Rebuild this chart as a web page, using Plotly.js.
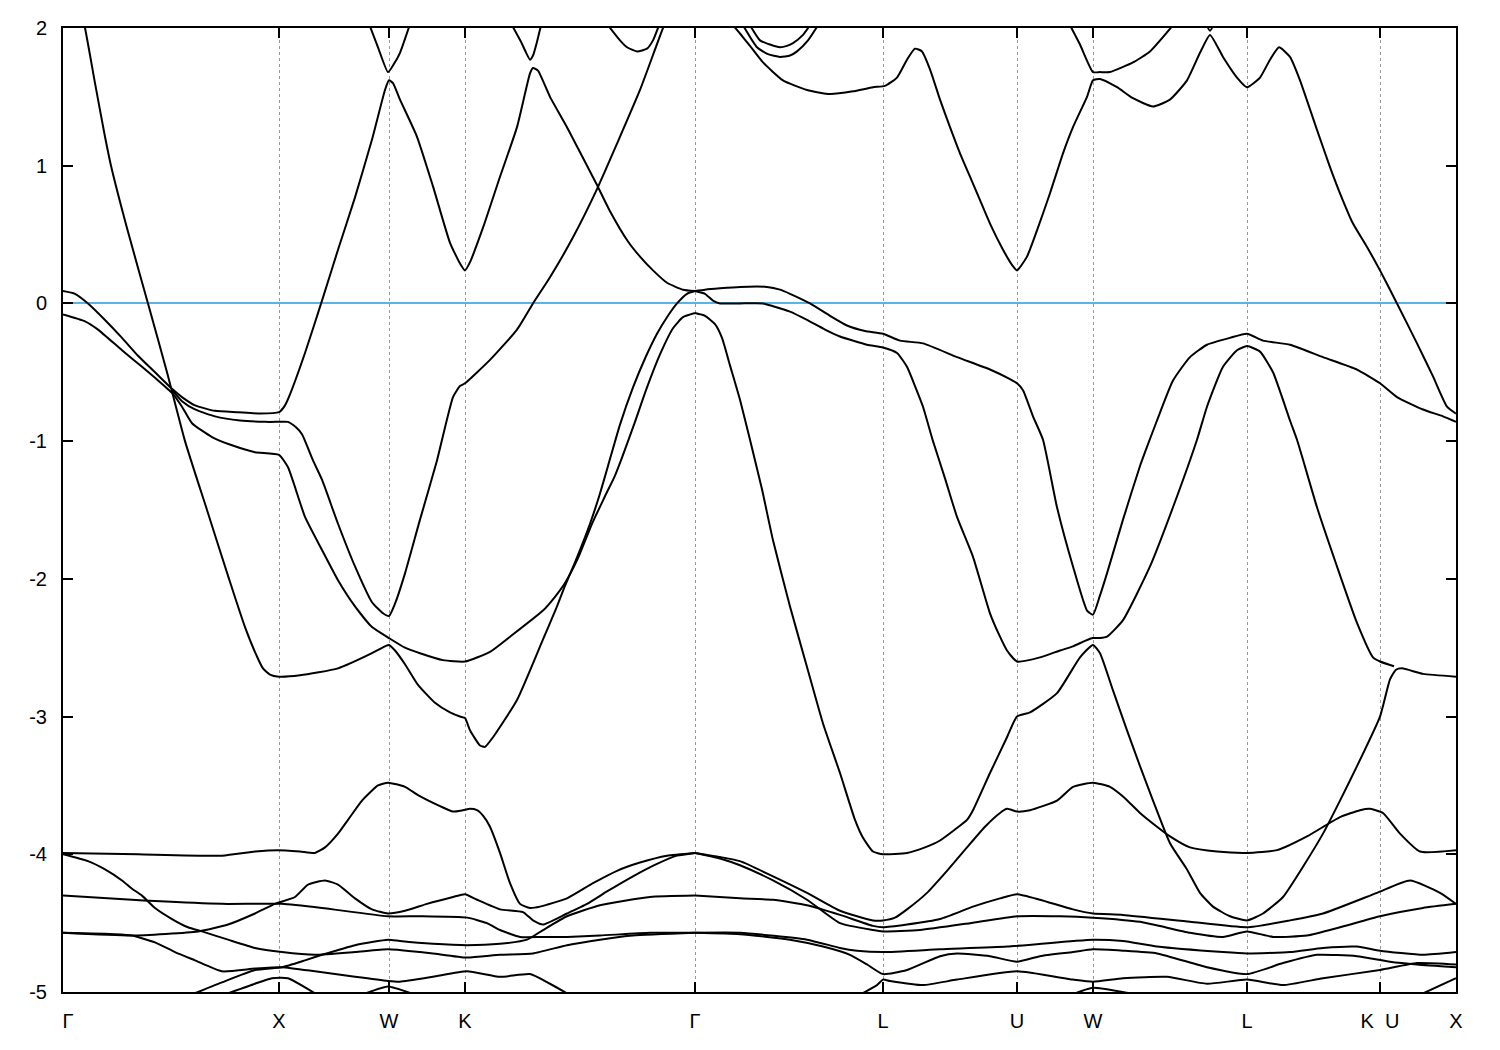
<!DOCTYPE html>
<html><head><meta charset="utf-8">
<script src="https://cdn.plot.ly/plotly-3.0.1.min.js"></script>
<style>body{margin:0;background:#fff}#plot{width:1500px;height:1050px}</style>
</head><body><div id="plot"></div>
<script>
// High-symmetry points along the path (path length units)
const kTicks  = [0, 2.16, 3.26, 4.02, 6.32, 8.20, 9.54, 10.30, 11.84, 13.17, 13.93];
const kLabels = ['\u2002Γ', 'X', 'W', 'K', 'Γ', 'L', 'U', 'W', 'L', 'K\u00a0\u00a0U', 'X'];
const eTicks  = [-5, -4, -3, -2, -1, 0, 1, 2];
const eLabels = ['-5', '-4', '-3', '-2', '-1', '0', '1', '2'];

// ---- bands (k, E in eV) ----
const c01_k = [0.15,0.22,0.32,0.42,0.48,0.65,0.85,1.04,1.22,1.44,1.66,1.82,1.95,2.00,2.07,2.16,2.37,2.75,3.09,3.22,3.26,3.32,3.42,3.55,3.72,3.87,3.97,4.02,4.07,4.17,4.22,4.30,4.54,4.80,4.94,5.02,5.12,5.27,5.37,5.45,5.57,5.70,5.82,5.94,6.04,6.14,6.24,6.32];
const c01_e = [2.2,2.0,1.6,1.21,1.0,0.52,0.0,-0.5,-1.0,-1.5,-2.0,-2.35,-2.58,-2.65,-2.695,-2.71,-2.70,-2.65,-2.54,-2.49,-2.48,-2.52,-2.62,-2.77,-2.9,-2.97,-3.0,-3.01,-3.1,-3.21,-3.22,-3.15,-2.88,-2.44,-2.2,-2.05,-1.88,-1.6,-1.38,-1.18,-0.88,-0.61,-0.4,-0.22,-0.1,0.0,0.07,0.09];

const c02_k = [0,0.22,0.35,0.59,0.79,0.92,1.09,1.19,1.29,1.49,1.69,1.92,2.16,2.25,2.42,2.59,2.75,2.92,3.09,3.26,3.42,3.57,3.80,4.02,4.27,4.47,4.80,4.92,5.02,5.15,5.29,5.42,5.52,5.59,5.71,5.84,5.97,6.10,6.20,6.32];
const c02_e = [-0.08,-0.13,-0.19,-0.34,-0.46,-0.54,-0.65,-0.75,-0.87,-0.97,-1.03,-1.08,-1.1,-1.19,-1.55,-1.79,-2.01,-2.2,-2.35,-2.43,-2.5,-2.54,-2.59,-2.6,-2.53,-2.42,-2.23,-2.13,-2.03,-1.85,-1.6,-1.4,-1.25,-1.12,-0.88,-0.61,-0.37,-0.18,-0.1,-0.07];

const c03_k = [0,0.12,0.25,0.42,0.59,0.75,0.92,1.09,1.19,1.32,1.52,1.75,1.97,2.16,2.22,2.27,2.42,2.59,2.75,2.92,3.09,3.22,3.26,3.30,3.37,3.54,3.70,3.87,3.97,4.02,4.07,4.20,4.37,4.54,4.67,4.70,4.75,4.87,5.04,5.19,5.34,5.47,5.65,5.77,5.90,6.04,6.20,6.32];
const c03_e = [0.09,0.07,0.0,-0.12,-0.25,-0.38,-0.5,-0.62,-0.68,-0.74,-0.78,-0.79,-0.8,-0.79,-0.74,-0.66,-0.36,0.02,0.39,0.77,1.19,1.55,1.62,1.6,1.48,1.21,0.85,0.44,0.29,0.24,0.3,0.55,0.92,1.28,1.67,1.71,1.69,1.5,1.28,1.07,0.86,0.67,0.45,0.34,0.24,0.15,0.1,0.09];

const c04_k = [1.09,1.19,1.32,1.52,1.77,2.02,2.16,2.25,2.33,2.39,2.50,2.59,2.75,2.92,3.09,3.20,3.26,3.32,3.42,3.57,3.74,3.90,3.97,4.02,4.27,4.54,4.70,4.87,5.10,5.34,5.54,5.77,6.00,6.05];
const c04_e = [-0.63,-0.71,-0.77,-0.82,-0.85,-0.86,-0.86,-0.86,-0.9,-0.95,-1.14,-1.28,-1.6,-1.91,-2.17,-2.25,-2.27,-2.18,-1.96,-1.57,-1.14,-0.68,-0.6,-0.58,-0.41,-0.19,0.0,0.19,0.48,0.83,1.16,1.55,2.0,2.08];

const c05_k = [3.05,3.15,3.25,3.31,3.37,3.48];
const c05_e = [2.05,1.86,1.68,1.74,1.82,2.05];

const c06_k = [4.49,4.58,4.67,4.70,4.74,4.78];
const c06_e = [2.02,1.9,1.77,1.8,1.9,2.02];

const c07_k = [5.45,5.57,5.64,5.74,5.84,5.90,5.96];
const c07_e = [2.02,1.91,1.86,1.83,1.85,1.91,2.02];

const c08_k = [6.70,6.77,6.87,7.00,7.20,7.44,7.67,7.90,8.10,8.22,8.34,8.44,8.52,8.59,8.67,8.77,8.87,8.97,9.07,9.17,9.27,9.40,9.49,9.54,9.64,9.74,9.87,10.00,10.10,10.24,10.30,10.37,10.54,10.70,10.90,11.07,11.24,11.37,11.47,11.60,11.74,11.84,11.97,12.07,12.16,12.27,12.37,12.54,12.67,12.77,12.90,13.04,13.17,13.34,13.54,13.70,13.84,13.93];
const c08_e = [2.02,1.96,1.87,1.75,1.62,1.55,1.52,1.54,1.57,1.58,1.64,1.77,1.85,1.83,1.7,1.48,1.28,1.09,0.92,0.75,0.58,0.39,0.28,0.24,0.34,0.53,0.8,1.09,1.28,1.5,1.62,1.63,1.57,1.49,1.43,1.48,1.62,1.82,1.95,1.79,1.64,1.57,1.64,1.77,1.86,1.79,1.62,1.26,0.99,0.8,0.58,0.41,0.24,0.0,-0.29,-0.53,-0.75,-0.8];

const c09_k = [6.80,6.94,7.05,7.17,7.27,7.34,7.45,7.55];
const c09_e = [2.02,1.86,1.81,1.79,1.8,1.83,1.91,2.02];

const c10_k = [6.87,6.97,7.07,7.17,7.24,7.30,7.40,7.47];
const c10_e = [2.02,1.91,1.88,1.86,1.87,1.89,1.95,2.02];

const c11_k = [10.07,10.17,10.30,10.37,10.47,10.70,10.87,11.10];
const c11_e = [2.02,1.88,1.68,1.68,1.68,1.75,1.83,2.02];

const c12_k = [11.40,11.47,11.54];
const c12_e = [2.08,1.98,2.08];

const c13_k = [6.32,6.42,6.57,6.77,7.04,7.17,7.27,7.47,7.67,7.84,8.02,8.20,8.37,8.60,8.94,9.27,9.47,9.54,9.60,9.70,9.80,9.94,10.10,10.24,10.30,10.37,10.44,10.60,10.77,10.82,10.94,11.10,11.27,11.44,11.67,11.84,12.00,12.27,12.60,12.94,13.17,13.34,13.60,13.80,13.93];
const c13_e = [0.09,0.1,0.11,0.12,0.12,0.1,0.07,0.0,-0.09,-0.16,-0.2,-0.22,-0.27,-0.29,-0.39,-0.48,-0.55,-0.58,-0.63,-0.82,-0.99,-1.48,-1.91,-2.23,-2.26,-2.12,-1.96,-1.57,-1.18,-1.08,-0.85,-0.56,-0.39,-0.3,-0.25,-0.22,-0.27,-0.3,-0.39,-0.48,-0.58,-0.68,-0.77,-0.82,-0.86];

const c14_k = [6.32,6.42,6.50,6.57,6.77,7.00,7.10,7.27,7.44,7.62,7.77,8.04,8.20,8.34,8.44,8.52,8.60,8.70,8.82,8.94,9.10,9.27,9.37,9.44,9.54,9.77,9.97,10.10,10.22,10.30,10.37,10.44,10.60,10.87,11.10,11.34,11.44,11.60,11.74,11.84,11.97,12.10,12.27,12.34,12.39,12.54,12.74,12.94,13.10,13.17,13.31];
const c14_e = [0.09,0.07,0.02,0.0,0.0,0.0,-0.02,-0.06,-0.12,-0.19,-0.24,-0.3,-0.32,-0.36,-0.46,-0.6,-0.75,-1.0,-1.27,-1.55,-1.84,-2.25,-2.42,-2.52,-2.6,-2.57,-2.52,-2.49,-2.45,-2.43,-2.43,-2.42,-2.3,-1.91,-1.48,-0.99,-0.75,-0.46,-0.34,-0.31,-0.35,-0.5,-0.85,-0.99,-1.11,-1.48,-1.91,-2.32,-2.57,-2.6,-2.635];

const c15_k = [6.32,6.42,6.52,6.59,6.67,6.77,6.87,6.99,7.10,7.27,7.44,7.60,7.77,7.92,8.00,8.10,8.20,8.44,8.62,8.77,8.92,9.04,9.10,9.27,9.44,9.54,9.67,9.94,10.17,10.30,10.37,10.50,10.64,10.77,10.90,11.07,11.24,11.37,11.50,11.67,11.84,12.00,12.20,12.40,12.60,12.77,12.94,13.17,13.27,13.33,13.39,13.60,13.93];
const c15_e = [-0.07,-0.09,-0.15,-0.25,-0.45,-0.7,-0.99,-1.35,-1.72,-2.2,-2.64,-3.05,-3.41,-3.75,-3.88,-3.98,-4.0,-3.99,-3.95,-3.9,-3.82,-3.75,-3.68,-3.41,-3.15,-3.0,-2.97,-2.83,-2.57,-2.48,-2.54,-2.81,-3.1,-3.36,-3.61,-3.92,-4.11,-4.28,-4.38,-4.45,-4.48,-4.43,-4.31,-4.09,-3.85,-3.61,-3.36,-3.0,-2.73,-2.66,-2.65,-2.69,-2.71];

const c16_k = [6.32,6.57,6.77,7.10,7.44,7.77,8.10,8.20,8.32,8.44,8.64,8.84,9.04,9.22,9.37,9.44,9.54,9.67,9.94,10.10,10.30,10.47,10.60,10.77,10.94,11.07,11.27,11.54,11.84,12.14,12.44,12.77,12.97,13.07,13.20,13.37,13.57,13.93];
const c16_e = [-3.99,-4.02,-4.05,-4.16,-4.28,-4.41,-4.48,-4.48,-4.46,-4.4,-4.28,-4.12,-3.95,-3.8,-3.7,-3.67,-3.69,-3.68,-3.61,-3.51,-3.48,-3.51,-3.58,-3.7,-3.8,-3.87,-3.95,-3.98,-3.99,-3.97,-3.87,-3.73,-3.68,-3.67,-3.7,-3.85,-3.98,-3.97];

const d01_k = [0,0.75,1.59,1.92,2.15,2.37,2.52,2.62,2.75,2.85,2.99,3.15,3.25,3.42,3.55,3.77,3.90,4.00,4.07,4.14,4.20,4.27,4.37,4.47,4.57,4.67,4.77,5.04,5.30,5.54,5.77,6.04,6.32];
const d01_e = [-3.99,-4.0,-4.01,-3.98,-3.97,-3.98,-3.99,-3.95,-3.85,-3.75,-3.61,-3.5,-3.48,-3.51,-3.57,-3.65,-3.69,-3.68,-3.67,-3.68,-3.72,-3.8,-3.99,-4.21,-4.36,-4.39,-4.38,-4.32,-4.21,-4.12,-4.06,-4.01,-3.99];

const d02_k = [0,0.25,0.42,0.59,0.69,0.79,0.92,1.09,1.25,1.39,1.65,1.92,2.19,2.52,2.92,3.25,3.57,3.70,4.04,4.37,4.70,5.04,5.37,5.70,6.32];
const d02_e = [-4.0,-4.05,-4.11,-4.19,-4.25,-4.30,-4.39,-4.47,-4.53,-4.56,-4.62,-4.68,-4.71,-4.73,-4.71,-4.69,-4.71,-4.72,-4.75,-4.73,-4.72,-4.66,-4.62,-4.59,-4.57];

const d03_k = [0,0.69,0.92,1.59,2.19,2.59,3.25,3.57,4.04,4.24,4.37,4.57,4.80,5.04,5.37,5.87,6.32];
const d03_e = [-4.30,-4.33,-4.34,-4.36,-4.36,-4.39,-4.45,-4.45,-4.46,-4.5,-4.55,-4.6,-4.6,-4.6,-4.59,-4.57,-4.57];

const d04_k = [0,0.69,1.35,1.65,1.92,2.12,2.32,2.45,2.62,2.75,2.92,3.09,3.25,3.42,3.64,3.90,4.02,4.14,4.37,4.60,4.70,4.80,5.04,5.24,5.44,5.70,5.94,6.14,6.32];
const d04_e = [-4.57,-4.59,-4.56,-4.51,-4.43,-4.36,-4.31,-4.22,-4.19,-4.22,-4.32,-4.40,-4.43,-4.41,-4.36,-4.31,-4.29,-4.33,-4.40,-4.42,-4.48,-4.51,-4.43,-4.36,-4.27,-4.16,-4.07,-4.01,-3.99];

const d05_k = [0,0.52,0.69,0.92,1.12,1.32,1.59,1.92,2.19,2.52,2.92,3.25,3.37,3.70,4.04,4.37,4.67,4.87,5.04];
const d05_e = [-4.57,-4.58,-4.59,-4.64,-4.71,-4.77,-4.85,-4.83,-4.82,-4.85,-4.89,-4.92,-4.925,-4.89,-4.85,-4.89,-4.87,-4.94,-5.01];

const d06_k = [1.27,1.35,1.59,1.92,2.19,2.42,2.59,2.92,3.25,3.37,3.70,4.04,4.37,4.64,4.80,5.04,5.37,5.87,6.32];
const d06_e = [-5.02,-5.0,-4.93,-4.84,-4.82,-4.77,-4.73,-4.66,-4.62,-4.63,-4.65,-4.66,-4.65,-4.62,-4.55,-4.45,-4.37,-4.31,-4.30];

const d07_k = [1.65,1.92,2.09,2.25,2.52];
const d07_e = [-5.01,-4.94,-4.9,-4.9,-5.01];

const d08_k = [2.99,3.25,3.52];
const d08_e = [-5.02,-4.96,-5.02];

const d09_k = [6.32,6.77,7.10,7.44,7.77,8.10,8.20,8.44,8.77,9.10,9.37,9.54,9.77,10.10,10.30,10.60,11.27,11.84,12.27,12.60,13.14,13.47,13.77,13.93];
const d09_e = [-4.30,-4.32,-4.33,-4.37,-4.44,-4.52,-4.53,-4.51,-4.47,-4.38,-4.32,-4.29,-4.33,-4.40,-4.43,-4.44,-4.49,-4.53,-4.48,-4.43,-4.28,-4.19,-4.28,-4.36];

const d10_k = [6.32,6.57,6.77,7.10,7.44,7.77,8.10,8.20,8.57,9.07,9.54,9.97,10.30,10.77,11.27,11.60,11.84,12.10,12.44,12.77,13.17,13.60,13.93];
const d10_e = [-3.99,-4.03,-4.08,-4.19,-4.33,-4.50,-4.55,-4.56,-4.55,-4.50,-4.45,-4.45,-4.46,-4.49,-4.57,-4.60,-4.56,-4.60,-4.59,-4.53,-4.45,-4.39,-4.36];

const d11_k = [6.32,6.77,7.44,7.77,7.94,8.20,8.77,9.44,10.10,10.30,10.60,10.94,11.60,11.84,12.27,12.60,12.94,13.17,13.60,13.93];
const d11_e = [-4.57,-4.57,-4.62,-4.68,-4.70,-4.71,-4.69,-4.67,-4.63,-4.62,-4.63,-4.67,-4.71,-4.72,-4.71,-4.68,-4.67,-4.70,-4.73,-4.71];

const d12_k = [6.32,6.77,7.27,7.60,7.87,8.04,8.20,8.44,8.77,8.94,9.27,9.54,9.77,10.10,10.30,10.60,10.94,11.44,11.84,12.20,12.54,12.94,13.27,13.54,13.93];
const d12_e = [-4.57,-4.58,-4.62,-4.67,-4.73,-4.80,-4.87,-4.84,-4.74,-4.72,-4.74,-4.78,-4.74,-4.71,-4.69,-4.70,-4.72,-4.82,-4.87,-4.79,-4.73,-4.74,-4.78,-4.80,-4.82];

const d13_k = [7.97,8.14,8.20,8.27,8.60,8.94,9.54,10.10,10.30,10.60,11.04,11.44,11.84,12.20,12.60,13.17,13.54,13.93];
const d13_e = [-5.02,-4.95,-4.91,-4.92,-4.95,-4.91,-4.85,-4.91,-4.925,-4.90,-4.89,-4.94,-4.91,-4.95,-4.90,-4.84,-4.79,-4.80];

const d14_k = [13.60,13.93];
const d14_e = [-5.01,-4.90];

const d15_k = [10.12,10.30,10.67];
const d15_e = [-5.01,-4.97,-5.01];

const bands = [
  [c01_k,c01_e],[c02_k,c02_e],[c03_k,c03_e],[c04_k,c04_e],[c05_k,c05_e],[c06_k,c06_e],
  [c07_k,c07_e],[c08_k,c08_e],[c09_k,c09_e],[c10_k,c10_e],[c11_k,c11_e],[c12_k,c12_e],
  [c13_k,c13_e],[c14_k,c14_e],[c15_k,c15_e],[c16_k,c16_e],
  [d01_k,d01_e],[d02_k,d02_e],[d03_k,d03_e],[d04_k,d04_e],[d05_k,d05_e],[d06_k,d06_e],
  [d07_k,d07_e],[d08_k,d08_e],[d09_k,d09_e],[d10_k,d10_e],[d11_k,d11_e],[d12_k,d12_e],
  [d13_k,d13_e],[d14_k,d14_e],[d15_k,d15_e]
];

const traces = bands.map(([k, e]) => ({
  x: k, y: e, type: 'scatter', mode: 'lines',
  line: {color: '#000000', width: 2, shape: 'spline', smoothing: 0.5},
  hoverinfo: 'skip', showlegend: false
}));

const fontFam = '"Liberation Sans", Arial, Helvetica, sans-serif';
const layout = {
  width: 1500, height: 1050,
  margin: {l: 63, r: 44, t: 28, b: 58, pad: 0},
  paper_bgcolor: '#ffffff', plot_bgcolor: '#ffffff',
  showlegend: false,
  font: {family: fontFam, size: 20, color: '#000000'},
  xaxis: {
    range: [0, 13.93], tickmode: 'array', tickvals: kTicks, ticktext: kLabels,
    showgrid: true, gridcolor: '#999999', gridwidth: 1, griddash: 'dot',
    zeroline: false, showline: true, linecolor: '#000000', linewidth: 2, mirror: 'ticks',
    ticks: 'inside', ticklen: 10, tickwidth: 2, tickcolor: '#000000',
    ticklabelstandoff: 10, tickfont: {family: fontFam, size: 20, color: '#000000'}
  },
  yaxis: {
    range: [-5, 2], tickmode: 'array', tickvals: eTicks, ticktext: eLabels,
    showgrid: false, zeroline: true, zerolinecolor: 'rgb(86,180,233)', zerolinewidth: 2,
    showline: true, linecolor: '#000000', linewidth: 2, mirror: 'ticks',
    ticks: 'inside', ticklen: 10, tickwidth: 2, tickcolor: '#000000',
    ticklabelstandoff: 10, tickfont: {family: fontFam, size: 20, color: '#000000'}
  }
};

Plotly.newPlot('plot', traces, layout, {staticPlot: true, displayModeBar: false});
</script>
</body></html>
